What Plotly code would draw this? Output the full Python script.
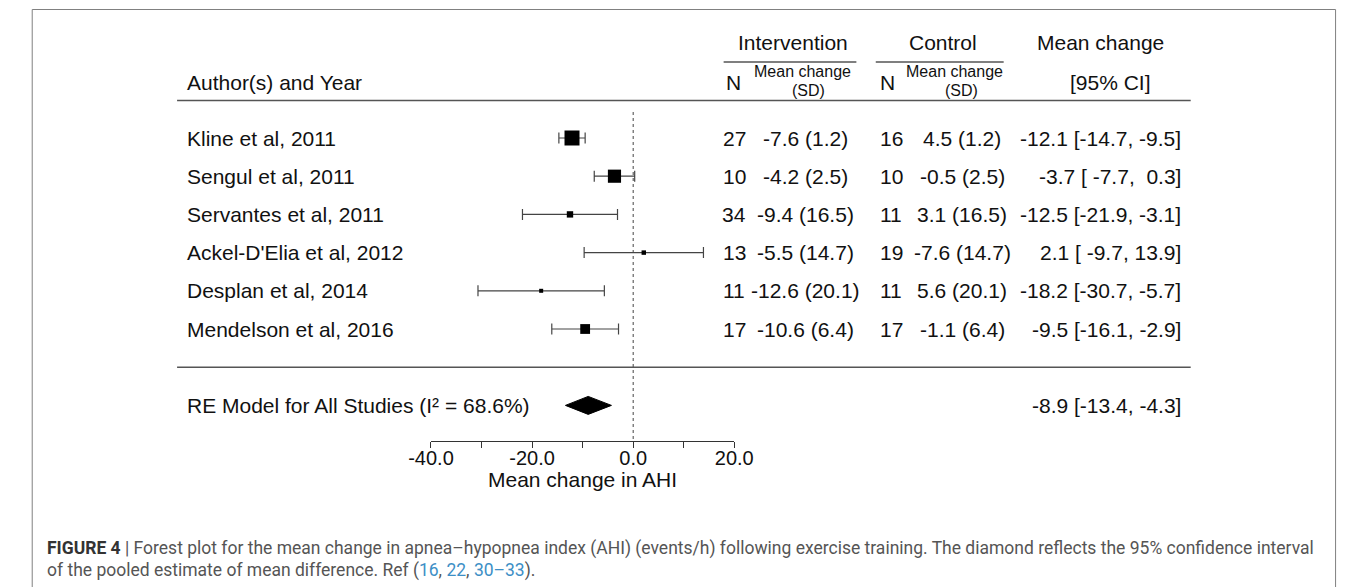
import plotly.graph_objects as go

# ---------------- data ----------------
authors = ["Kline et al, 2011", "Sengul et al, 2011", "Servantes et al, 2011",
           "Ackel-D'Elia et al, 2012", "Desplan et al, 2014", "Mendelson et al, 2016"]
n_int = [27, 10, 34, 13, 11, 17]
mean_int = [-7.6, -4.2, -9.4, -5.5, -12.6, -10.6]
sd_int = [1.2, 2.5, 16.5, 14.7, 20.1, 6.4]
n_ctl = [16, 10, 11, 19, 11, 17]
mean_ctl = [4.5, -0.5, 3.1, -7.6, 5.6, -1.1]
sd_ctl = [1.2, 2.5, 16.5, 14.7, 20.1, 6.4]
md = [-12.1, -3.7, -12.5, 2.1, -18.2, -9.5]
ci_lo = [-14.7, -7.7, -21.9, -9.7, -30.7, -16.1]
ci_hi = [-9.5, 0.3, -3.1, 13.9, -5.7, -2.9]
weights = [26.1, 23.3, 13.0, 10.1, 9.4, 18.2]   # estimated RE weights (%)
re_est, re_lo, re_hi = -8.9, -13.4, -4.3
i2 = 68.6
tick_vals = [-40, -30, -20, -10, 0, 10, 20]
tick_labels = ["-40.0", "", "-20.0", "", "0.0", "", "20.0"]

# ---------------- geometry helpers ----------------
W, H = 1357, 587
ROW1_PX, ROW_STEP = 329.0, 38.2
AXIS_PX = 441.0
REF_TOP_PX = 112.0
k = len(authors)
rows = list(range(k, 0, -1))
re_row = -1


def px2row(p):
    return 1 + (ROW1_PX - p) / ROW_STEP


def xp(px):
    return px / W


def yp(py):
    return 1 - py / H


r_top = px2row(0)
r_bot = px2row(H)
axis_row = px2row(AXIS_PX)

FONT = "Liberation Sans, Arial, sans-serif"
CAPFONT = "Roboto, Liberation Sans, sans-serif"
TXT = "#111111"
GREY = "#555555"

wmin, wmax = min(weights), max(weights)
sizes = [4 + (w - wmin) / (wmax - wmin) * 11 for w in weights]

fig = go.Figure()

# reference line at 0
fig.add_trace(go.Scatter(x=[0, 0], y=[px2row(REF_TOP_PX), axis_row], mode="lines",
                         line=dict(color="#444444", width=1, dash="dot"),
                         hoverinfo="skip", showlegend=False))

# confidence intervals
fig.add_trace(go.Scatter(
    x=md, y=rows, mode="markers",
    marker=dict(size=1, color="rgba(0,0,0,0)"),
    error_x=dict(type="data", symmetric=False,
                 array=[h - m for h, m in zip(ci_hi, md)],
                 arrayminus=[m - l for m, l in zip(md, ci_lo)],
                 color="#444444", thickness=1.2, width=5.5),
    cliponaxis=False, showlegend=False, hoverinfo="skip"))

# study squares
fig.add_trace(go.Scatter(
    x=md, y=rows, mode="markers",
    marker=dict(symbol="square", size=sizes, color="#000000", opacity=1,
                line=dict(width=0)),
    cliponaxis=False, showlegend=False, hoverinfo="skip"))

# summary diamond
dh = 0.235
fig.add_trace(go.Scatter(
    x=[re_lo, re_est, re_hi, re_est, re_lo],
    y=[re_row, re_row + dh, re_row, re_row - dh, re_row],
    mode="lines", fill="toself", fillcolor="black",
    line=dict(color="black", width=1), showlegend=False, hoverinfo="skip",
    cliponaxis=False))

shapes = []


def hline(x0, x1, y, color=GREY, width=1.5):
    shapes.append(dict(type="line", xref="paper", yref="paper",
                       x0=xp(x0), x1=xp(x1), y0=yp(y), y1=yp(y),
                       line=dict(color=color, width=width)))


hline(159, 1205, 100.5)
hline(159, 1205, 367.3)
hline(723, 860, 62)
hline(880, 1012, 62)

# outer frame
shapes.append(dict(type="rect", xref="paper", yref="paper",
                   x0=xp(9.5), x1=xp(1354.5), y0=-0.05, y1=yp(9.5),
                   line=dict(color="#808080", width=1), fillcolor="rgba(0,0,0,0)"))

ann = []


def text(s, x, y, size=21, anchor="center", yref="paper", color=TXT, family=FONT):
    ann.append(dict(text=s, x=xp(x), y=(yp(y) if yref == "paper" else y),
                    xref="paper", yref=yref, xanchor=anchor, yanchor="middle",
                    showarrow=False, font=dict(size=size, color=color, family=family)))


# header
text("Author(s) and Year", 167, 82, anchor="left")
text("Intervention", 795, 43)
text("Control", 949, 43)
text("Mean change", 1111.5, 43)
text("[95% CI]", 1122, 82)
text("N", 733, 82)
text("N", 892, 82)
text("Mean change", 804.5, 72, size=16)
text("(SD)", 811, 90, size=16)
text("Mean change", 961, 72, size=16)
text("(SD)", 968, 90, size=16)

# rows
for i in range(k):
    r = rows[i]
    text(authors[i], 167, r, anchor="left", yref="y")
    text(str(n_int[i]), 734, r, yref="y")
    text(f"{mean_int[i]:.1f} ({sd_int[i]:.1f})", 807, r, yref="y")
    text(str(n_ctl[i]), 896, r, yref="y")
    text(f"{mean_ctl[i]:.1f} ({sd_ctl[i]:.1f})", 969, r, yref="y")
    text(f"{md[i]:.1f} [{ci_lo[i]:5.1f}, {ci_hi[i]:4.1f}]", 1197, r, anchor="right", yref="y")

text(f"RE Model for All Studies (I\u00b2 = {i2:.1f}%)", 167, re_row, anchor="left", yref="y")
text(f"{re_est:.1f} [{re_lo:.1f}, {re_hi:.1f}]", 1197, re_row, anchor="right", yref="y")

# axis title
text("Mean change in AHI", 577.5, 479, size=21)

# caption
blue = "#3d8fc6"
text("<b style='color:#333333'>FIGURE 4</b> | Forest plot for the mean change in apnea\u2013hypopnea index (AHI) "
     "(events/h) following exercise training. The diamond reflects the 95% confidence interval",
     23, 548, size=17.5, anchor="left", color=GREY, family=CAPFONT)
text(f"of the pooled estimate of mean difference. Ref (<span style='color:{blue}'>16</span>, "
     f"<span style='color:{blue}'>22</span>, <span style='color:{blue}'>30\u201333</span>).",
     23, 570, size=17.5, anchor="left", color=GREY, family=CAPFONT)

fig.update_layout(
    width=W, height=H, autosize=False,
    margin=dict(l=0, r=0, t=0, b=0),
    paper_bgcolor="white", plot_bgcolor="rgba(0,0,0,0)",
    font=dict(family=FONT, color=TXT),
    shapes=shapes, annotations=ann,
    xaxis=dict(domain=[421 / W, 734 / W], range=[-40, 20], anchor="free",
               position=yp(AXIS_PX), showgrid=False, zeroline=False,
               showline=True, linecolor="#333333", linewidth=1,
               ticks="outside", ticklen=6, tickwidth=1, tickcolor="#333333",
               tickvals=tick_vals, ticktext=tick_labels, ticklabelstandoff=-7,
               tickfont=dict(size=20, color=TXT, family=FONT), fixedrange=True),
    yaxis=dict(domain=[0, 1], range=[r_bot, r_top], visible=False, fixedrange=True),
)

fig.write_html("out.html", config={"displayModeBar": False, "staticPlot": True},
               post_script="document.body.style.margin='0px';document.body.style.overflow='hidden';")
